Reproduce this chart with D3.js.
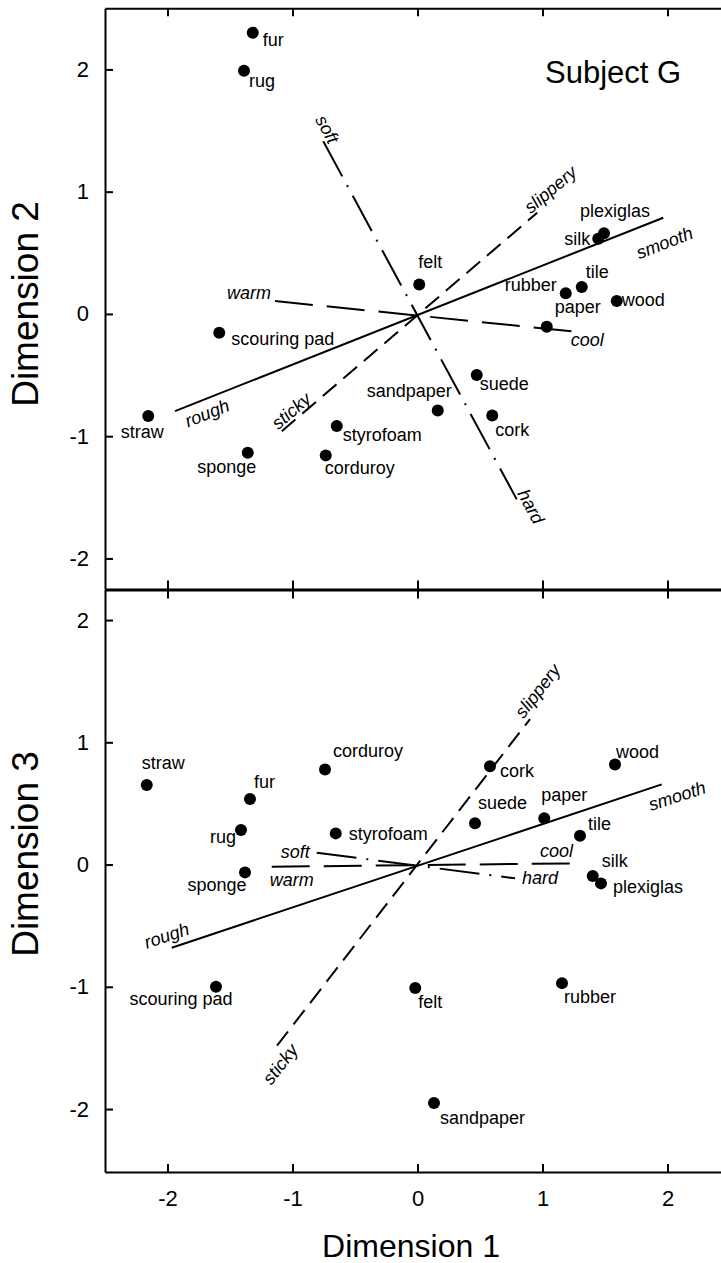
<!doctype html>
<html lang=en>

<head>
  <meta charset=utf-8>
  <title>Subject G</title>
  <style>
    body { margin: 0; background: #fff; }
    svg { display: block; font-family: "Liberation Sans", Arial, sans-serif; }
  </style>
</head>

<body>
  <svg></svg>
  <script src="https://d3js.org/d3.v7.min.js"></script>
  <script>
    var width = 721;
    var height = 1263;

    // materials, same order in every coordinate array
    var materials = ["fur", "rug", "felt", "plexiglas", "silk", "tile", "rubber", "paper", "wood",
      "scouring pad", "straw", "sponge", "styrofoam", "corduroy", "sandpaper", "suede", "cork"];
    var dim1Top = [-1.318, -1.388, 0.014, 1.492, 1.446, 1.314, 1.186, 1.034, 1.594,
      -1.586, -2.154, -1.358, -0.646, -0.734, 0.162, 0.474, 0.598];
    var dim2 = [2.30, 1.99, 0.24, 0.66, 0.615, 0.22, 0.17, -0.105, 0.105,
      -0.154, -0.835, -1.135, -0.917, -1.157, -0.79, -0.50, -0.83];
    var dim1Bottom = [-1.34, -1.412, -0.018, 1.468, 1.402, 1.30, 1.156, 1.014, 1.58,
      -1.612, -2.166, -1.38, -0.654, -0.74, 0.132, 0.46, 0.58];
    var dim3 = [0.536, 0.282, -1.01, -0.154, -0.094, 0.236, -0.97, 0.378, 0.819,
      -1.0, 0.65, -0.064, 0.255, 0.778, -1.95, 0.337, 0.805];

    // attribute directions: end point of each fitted property vector
    var attributes = ["smooth", "rough", "slippery", "sticky", "hard", "soft", "cool", "warm"];
    var attrDim1Top = [1.966, -1.94, 0.958, -1.086, 0.794, -0.754, 1.274, -1.14];
    var attrDim2 = [0.787, -0.795, 0.828, -0.959, -1.517, 1.413, -0.146, 0.105];
    var attrDim1Bottom = [1.954, -1.966, 0.9, -1.124, 0.78, -0.806, 1.26, -1.166];
    var attrDim3 = [0.656, -0.68, 1.19, -1.482, -0.113, 0.097, 0.01, -0.018];

    var tickValues = [-2, -1, 0, 1, 2];

    // each pair is drawn as one line through the origin
    var pairs = [["rough", "smooth"], ["sticky", "slippery"], ["soft", "hard"], ["warm", "cool"]];
    var pairDash = [null, "18,9", "40,10,2,10", "38,14"];

    // label placement: [anchor, along, perpendicular, rotate]
    var attrLabelTop = {
      smooth: ["middle", -8, -30, true], rough: ["start", 6, -20, true],
      slippery: ["start", -6, 3, true], sticky: ["start", -2, 3, true],
      hard: ["start", -5, 3, true], soft: ["end", 6, 3, true],
      cool: ["start", -6, -14, false], warm: ["end", -4, 2, false]
    };
    var attrLabelBottom = {
      smooth: ["middle", 11, -22, true], rough: ["start", -24, 7, true],
      slippery: ["start", -4, 5, true], sticky: ["end", 10, -20, true],
      hard: ["start", 7, -6, false], soft: ["end", -7, -5, false],
      cool: ["end", -2, 6, false], warm: ["start", -2, -19, false]
    };
    // point label placement: [anchor, dx, dy]
    var pointLabelTop = {
      "fur": ["start", 10, 13], "rug": ["start", 5, 16], "felt": ["start", -1, -17],
      "plexiglas": ["start", -24, -16], "silk": ["end", -8, 6], "tile": ["start", 4, -9],
      "rubber": ["end", -9, -2], "paper": ["start", 8, -14], "wood": ["start", 5, 5],
      "scouring pad": ["start", 12, 12], "straw": ["middle", -6, 22], "sponge": ["middle", -21, 20],
      "styrofoam": ["start", 6, 15], "corduroy": ["start", -1, 19], "sandpaper": ["end", 14, -14],
      "suede": ["start", 3, 15], "cork": ["start", 3, 21]
    };
    var pointLabelBottom = {
      "fur": ["start", 4, -11], "rug": ["end", -5, 13], "felt": ["start", 3, 20],
      "plexiglas": ["start", 12, 10], "silk": ["start", 9, -9], "tile": ["start", 8, -6],
      "rubber": ["start", 2, 20], "paper": ["start", -3, -17], "wood": ["start", 1, -6],
      "scouring pad": ["middle", -35, 18], "straw": ["start", -5, -16], "sponge": ["middle", -28, 19],
      "styrofoam": ["start", 13, 7], "corduroy": ["start", 8, -12], "sandpaper": ["start", 6, 21],
      "suede": ["start", 3, -14], "cork": ["start", 10, 11]
    };

    var svg = d3.select("svg")
      .attr("width", width)
      .attr("height", height);

    var x = d3.scaleLinear().domain([-2.5, 2.5]).range([105, 730]);
    var yTop = d3.scaleLinear().domain([-2.25, 2.5]).range([589, 8.3]);
    var yBottom = d3.scaleLinear().domain([-2.515, 2.25]).range([1172, 589.5]);

    function fmt(d) { return String(d); }

    function styleAxis(g, size) {
      g.attr("font-family", null).attr("font-size", null);
      g.selectAll("path, line").attr("stroke", "#000").attr("stroke-width", 2);
      g.selectAll("text").attr("fill", "#000").style("font-size", size + "px");
    }

    // frame and ticks
    svg.append("g").attr("transform", "translate(105,0)")
      .call(d3.axisLeft(yTop).tickValues(tickValues).tickSize(-8).tickSizeOuter(0).tickPadding(16).tickFormat(fmt))
      .call(styleAxis, 22);
    svg.append("g").attr("transform", "translate(105,0)")
      .call(d3.axisLeft(yBottom).tickValues(tickValues).tickSize(-8).tickSizeOuter(0).tickPadding(16).tickFormat(fmt))
      .call(styleAxis, 22);
    svg.append("g").attr("transform", "translate(730,0)")
      .call(d3.axisRight(yTop).tickValues(tickValues).tickSize(-9).tickSizeOuter(0).tickFormat(""))
      .call(styleAxis, 22);
    svg.append("g").attr("transform", "translate(730,0)")
      .call(d3.axisRight(yBottom).tickValues(tickValues).tickSize(-9).tickSizeOuter(0).tickFormat(""))
      .call(styleAxis, 22);
    svg.append("g").attr("transform", "translate(0," + yTop(2.5) + ")")
      .call(d3.axisTop(x).tickValues(tickValues).tickSize(-8).tickSizeOuter(0).tickFormat(""))
      .call(styleAxis, 22);
    svg.append("g").attr("transform", "translate(0,589.5)")
      .call(d3.axisBottom(x).tickValues(tickValues).tickSize(9).tickSizeOuter(0).tickFormat(""))
      .call(styleAxis, 22)
      .select(".domain").attr("stroke-width", 3);
    svg.append("g").attr("transform", "translate(0,589.5)")
      .call(d3.axisTop(x).tickValues(tickValues).tickSize(9).tickSizeOuter(0).tickFormat(""))
      .call(styleAxis, 22);
    svg.append("g").attr("transform", "translate(0,1172)")
      .call(d3.axisBottom(x).tickValues(tickValues).tickSize(-8).tickSizeOuter(0).tickPadding(18).tickFormat(fmt))
      .call(styleAxis, 22);

    // axis titles
    svg.append("text")
      .attr("transform", "translate(38,304) rotate(-90)")
      .attr("text-anchor", "middle")
      .style("font-size", "37px")
      .text("Dimension 2");
    svg.append("text")
      .attr("transform", "translate(38,854) rotate(-90)")
      .attr("text-anchor", "middle")
      .style("font-size", "37px")
      .text("Dimension 3");
    svg.append("text")
      .attr("x", 411).attr("y", 1257)
      .attr("text-anchor", "middle")
      .style("font-size", "32px")
      .text("Dimension 1");
    svg.append("text")
      .attr("x", 545).attr("y", 83)
      .style("font-size", "31px")
      .text("Subject G");

    function drawPanel(xs, ys, yScale, axs, ays, attrPos, pointPos) {
      var g = svg.append("g");
      var ends = {};
      attributes.forEach(function (a, i) {
        ends[a] = [x(axs[i]), yScale(ays[i])];
      });

      pairs.forEach(function (p, i) {
        g.append("line")
          .attr("x1", ends[p[0]][0]).attr("y1", ends[p[0]][1])
          .attr("x2", ends[p[1]][0]).attr("y2", ends[p[1]][1])
          .attr("stroke", "#000")
          .attr("stroke-width", 2)
          .attr("stroke-dasharray", pairDash[i]);
      });

      attributes.forEach(function (a) {
        var pos = attrPos[a];
        var e = ends[a];
        var ox = x(0), oy = yScale(0);
        var ang = 0;
        if (pos[3]) {
          ang = Math.atan2(e[1] - oy, e[0] - ox) * 180 / Math.PI;
          if (ang > 90) ang -= 180;
          if (ang <= -90) ang += 180;
        }
        var t = ang * Math.PI / 180;
        var rx = Math.cos(t), ry = Math.sin(t);
        var nx = Math.sin(t), ny = -Math.cos(t);
        var px = e[0] + pos[1] * rx + pos[2] * nx;
        var py = e[1] + pos[1] * ry + pos[2] * ny;
        g.append("text")
          .attr("transform", "translate(" + px + "," + py + ") rotate(" + ang + ")")
          .attr("text-anchor", pos[0])
          .style("font-size", "18px")
          .style("font-style", "italic")
          .text(a);
      });

      g.selectAll("circle")
        .data(materials)
        .join("circle")
        .attr("cx", function (d, i) { return x(xs[i]); })
        .attr("cy", function (d, i) { return yScale(ys[i]); })
        .attr("r", 6)
        .attr("fill", "#000");

      g.selectAll("text.mat")
        .data(materials)
        .join("text")
        .attr("class", "mat")
        .attr("x", function (d, i) { return x(xs[i]) + pointPos[d][1]; })
        .attr("y", function (d, i) { return yScale(ys[i]) + pointPos[d][2]; })
        .attr("text-anchor", function (d) { return pointPos[d][0]; })
        .style("font-size", "18px")
        .text(function (d) { return d; });
    }

    drawPanel(dim1Top, dim2, yTop, attrDim1Top, attrDim2, attrLabelTop, pointLabelTop);
    drawPanel(dim1Bottom, dim3, yBottom, attrDim1Bottom, attrDim3, attrLabelBottom, pointLabelBottom);
  </script>
</body>

</html>
